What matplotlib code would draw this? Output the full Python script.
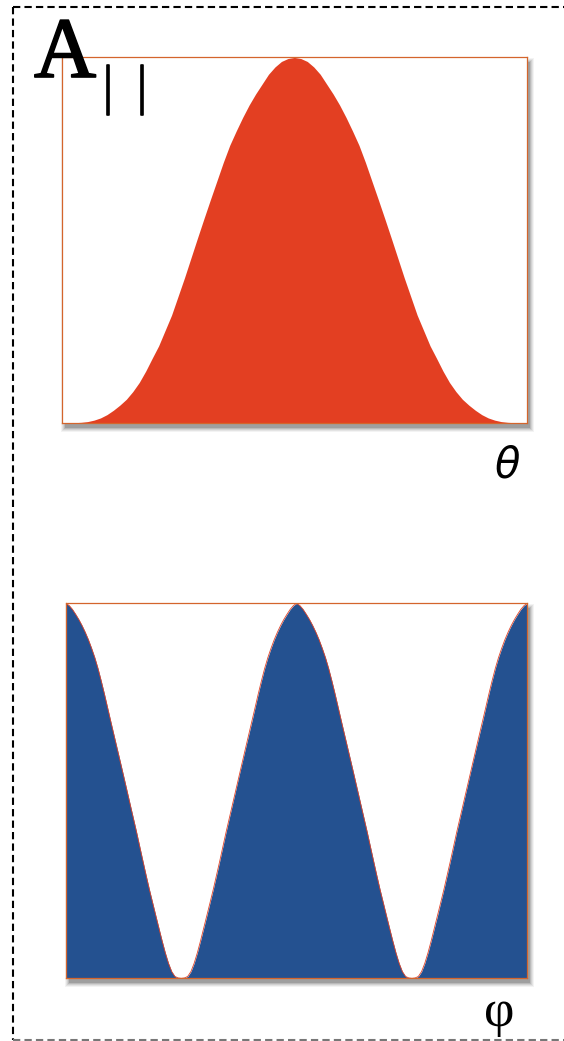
import matplotlib.pyplot as plt
import matplotlib.patheffects as pe
from matplotlib.patches import Rectangle
from matplotlib.lines import Line2D

# polar angle profile (degrees, relative amplitude)
theta_deg = [i * 2.5 for i in range(73)]
theta_amp = [0.000, 0.000, 0.000, 0.001, 0.003, 0.007, 0.013, 0.022, 0.034, 0.048,
             0.064, 0.085, 0.110, 0.141, 0.176, 0.210, 0.252, 0.294, 0.345, 0.396,
             0.450, 0.504, 0.557, 0.609, 0.660, 0.711, 0.758, 0.797, 0.834, 0.868,
             0.898, 0.925, 0.952, 0.972, 0.987, 0.995,
             0.998,
             0.995, 0.987, 0.972, 0.952, 0.925, 0.898, 0.868, 0.834, 0.797, 0.758,
             0.711, 0.660, 0.609, 0.557, 0.504, 0.450, 0.396, 0.345, 0.294, 0.252,
             0.210, 0.176, 0.141, 0.110, 0.085, 0.064, 0.048, 0.034, 0.022, 0.013,
             0.007, 0.003, 0.001, 0.000, 0.000, 0.000]

# azimuthal angle profile (degrees, relative amplitude)
phi_deg = [i * 2.5 for i in range(145)]
phi_amp = [1.000, 0.994, 0.984, 0.971, 0.957, 0.941, 0.923, 0.903, 0.880, 0.855,
           0.826, 0.793, 0.758, 0.721, 0.684, 0.648, 0.612, 0.576, 0.539, 0.502,
           0.465, 0.428, 0.391, 0.352, 0.313, 0.275, 0.238, 0.203, 0.168, 0.134,
           0.100, 0.068, 0.040, 0.018, 0.005, 0.001,
           0.000,
           0.001, 0.005, 0.018, 0.040, 0.068, 0.100, 0.134, 0.168, 0.203, 0.238,
           0.275, 0.313, 0.352, 0.391, 0.428, 0.465, 0.502, 0.539, 0.576, 0.612,
           0.648, 0.684, 0.721, 0.758, 0.793, 0.826, 0.855, 0.880, 0.903, 0.923,
           0.941, 0.957, 0.971, 0.984, 0.994, 1.000,
           0.994, 0.984, 0.971, 0.957, 0.941, 0.923, 0.903, 0.880, 0.855, 0.826,
           0.793, 0.758, 0.721, 0.684, 0.648, 0.612, 0.576, 0.539, 0.502, 0.465,
           0.428, 0.391, 0.352, 0.313, 0.275, 0.238, 0.203, 0.168, 0.134, 0.100,
           0.068, 0.040, 0.018, 0.005, 0.001,
           0.000,
           0.001, 0.005, 0.018, 0.040, 0.068, 0.100, 0.134, 0.168, 0.203, 0.238,
           0.275, 0.313, 0.352, 0.391, 0.428, 0.465, 0.502, 0.539, 0.576, 0.612,
           0.648, 0.684, 0.721, 0.758, 0.793, 0.826, 0.855, 0.880, 0.903, 0.923,
           0.941, 0.957, 0.971, 0.984, 0.994, 1.000]

W, H = 564, 1041
RED = '#E33F22'
BLUE = '#245190'
EDGE = '#D4652C'

fig = plt.figure(figsize=(W / 100, H / 100), dpi=100)


def px_box(x0, y0, x1, y1):
    """pixel box (top-left origin) -> figure fraction rect"""
    return [x0 / W, 1 - y1 / H, (x1 - x0) / W, (y1 - y0) / H]


def add_shadow(x0, y0, x1, y1, dx=3, dy=5):
    # soft drop shadow built from a few stacked translucent boxes
    for grow, alpha in [(4, 0.06), (3, 0.08), (2, 0.10), (1, 0.14), (0, 0.20)]:
        r = px_box(x0 + dx - grow, y0 + dy - grow, x1 + dx + grow, y1 + dy + grow)
        fig.patches.append(Rectangle((r[0], r[1]), r[2], r[3], transform=fig.transFigure,
                                     facecolor='#333333', edgecolor='none',
                                     alpha=alpha, zorder=-1))


def style_axes(ax):
    ax.set_xticks([])
    ax.set_yticks([])
    for sp in ax.spines.values():
        sp.set_color(EDGE)
        sp.set_linewidth(0.9)
    ax.set_facecolor('white')


# top panel: theta
top = (61.7, 56.7, 527, 422.7)
add_shadow(*top)
ax1 = fig.add_axes(px_box(*top))
ax1.fill_between(theta_deg, 0, theta_amp, color=RED, linewidth=0)
ax1.set_xlim(0, 180)
ax1.set_ylim(0, 1)
style_axes(ax1)

# bottom panel: phi
bot = (66, 603.3, 527.3, 978.3)
add_shadow(*bot)
ax2 = fig.add_axes(px_box(*bot))
ax2.fill_between(phi_deg, 0, phi_amp, color=BLUE, linewidth=0)
ax2.plot(phi_deg, phi_amp, color='#E0452A', linewidth=0.6)
ax2.set_xlim(0, 360)
ax2.set_ylim(0, 1)
style_axes(ax2)

# panel letter and parallel marker
heavy = [pe.withStroke(linewidth=1.2, foreground='black')]
fig.text(34 / W, 1 - 77 / H, 'A', family='Liberation Serif', fontsize=62,
         ha='left', va='baseline', path_effects=heavy)
for xb in (108, 142):
    fig.text(xb / W, 1 - 89.5 / H, '|', family='Liberation Serif', fontsize=40,
             ha='center', va='center', path_effects=heavy)

# axis symbols
fig.text(507 / W, 1 - 465 / H, 'θ', family='DejaVu Sans', style='italic',
         fontsize=30, ha='center', va='center')
fig.text(499 / W, 1 - 1013 / H, 'φ', family='Liberation Serif', fontsize=38,
         ha='center', va='center')

# dashed frame around the panel
dash = dict(linestyle=(0, (3.5, 2.0)), linewidth=1.5, transform=fig.transFigure)
fig.add_artist(Line2D([13 / W, 13 / W], [1 - 7 / H, 1 - 1040 / H], color='black', **dash))
fig.add_artist(Line2D([13 / W, 1], [1 - 7 / H, 1 - 7 / H], color='black', **dash))
fig.add_artist(Line2D([13 / W, 1], [1 - 1040 / H, 1 - 1040 / H], color='#777777', **dash))

fig.savefig('out.png', dpi=100)
